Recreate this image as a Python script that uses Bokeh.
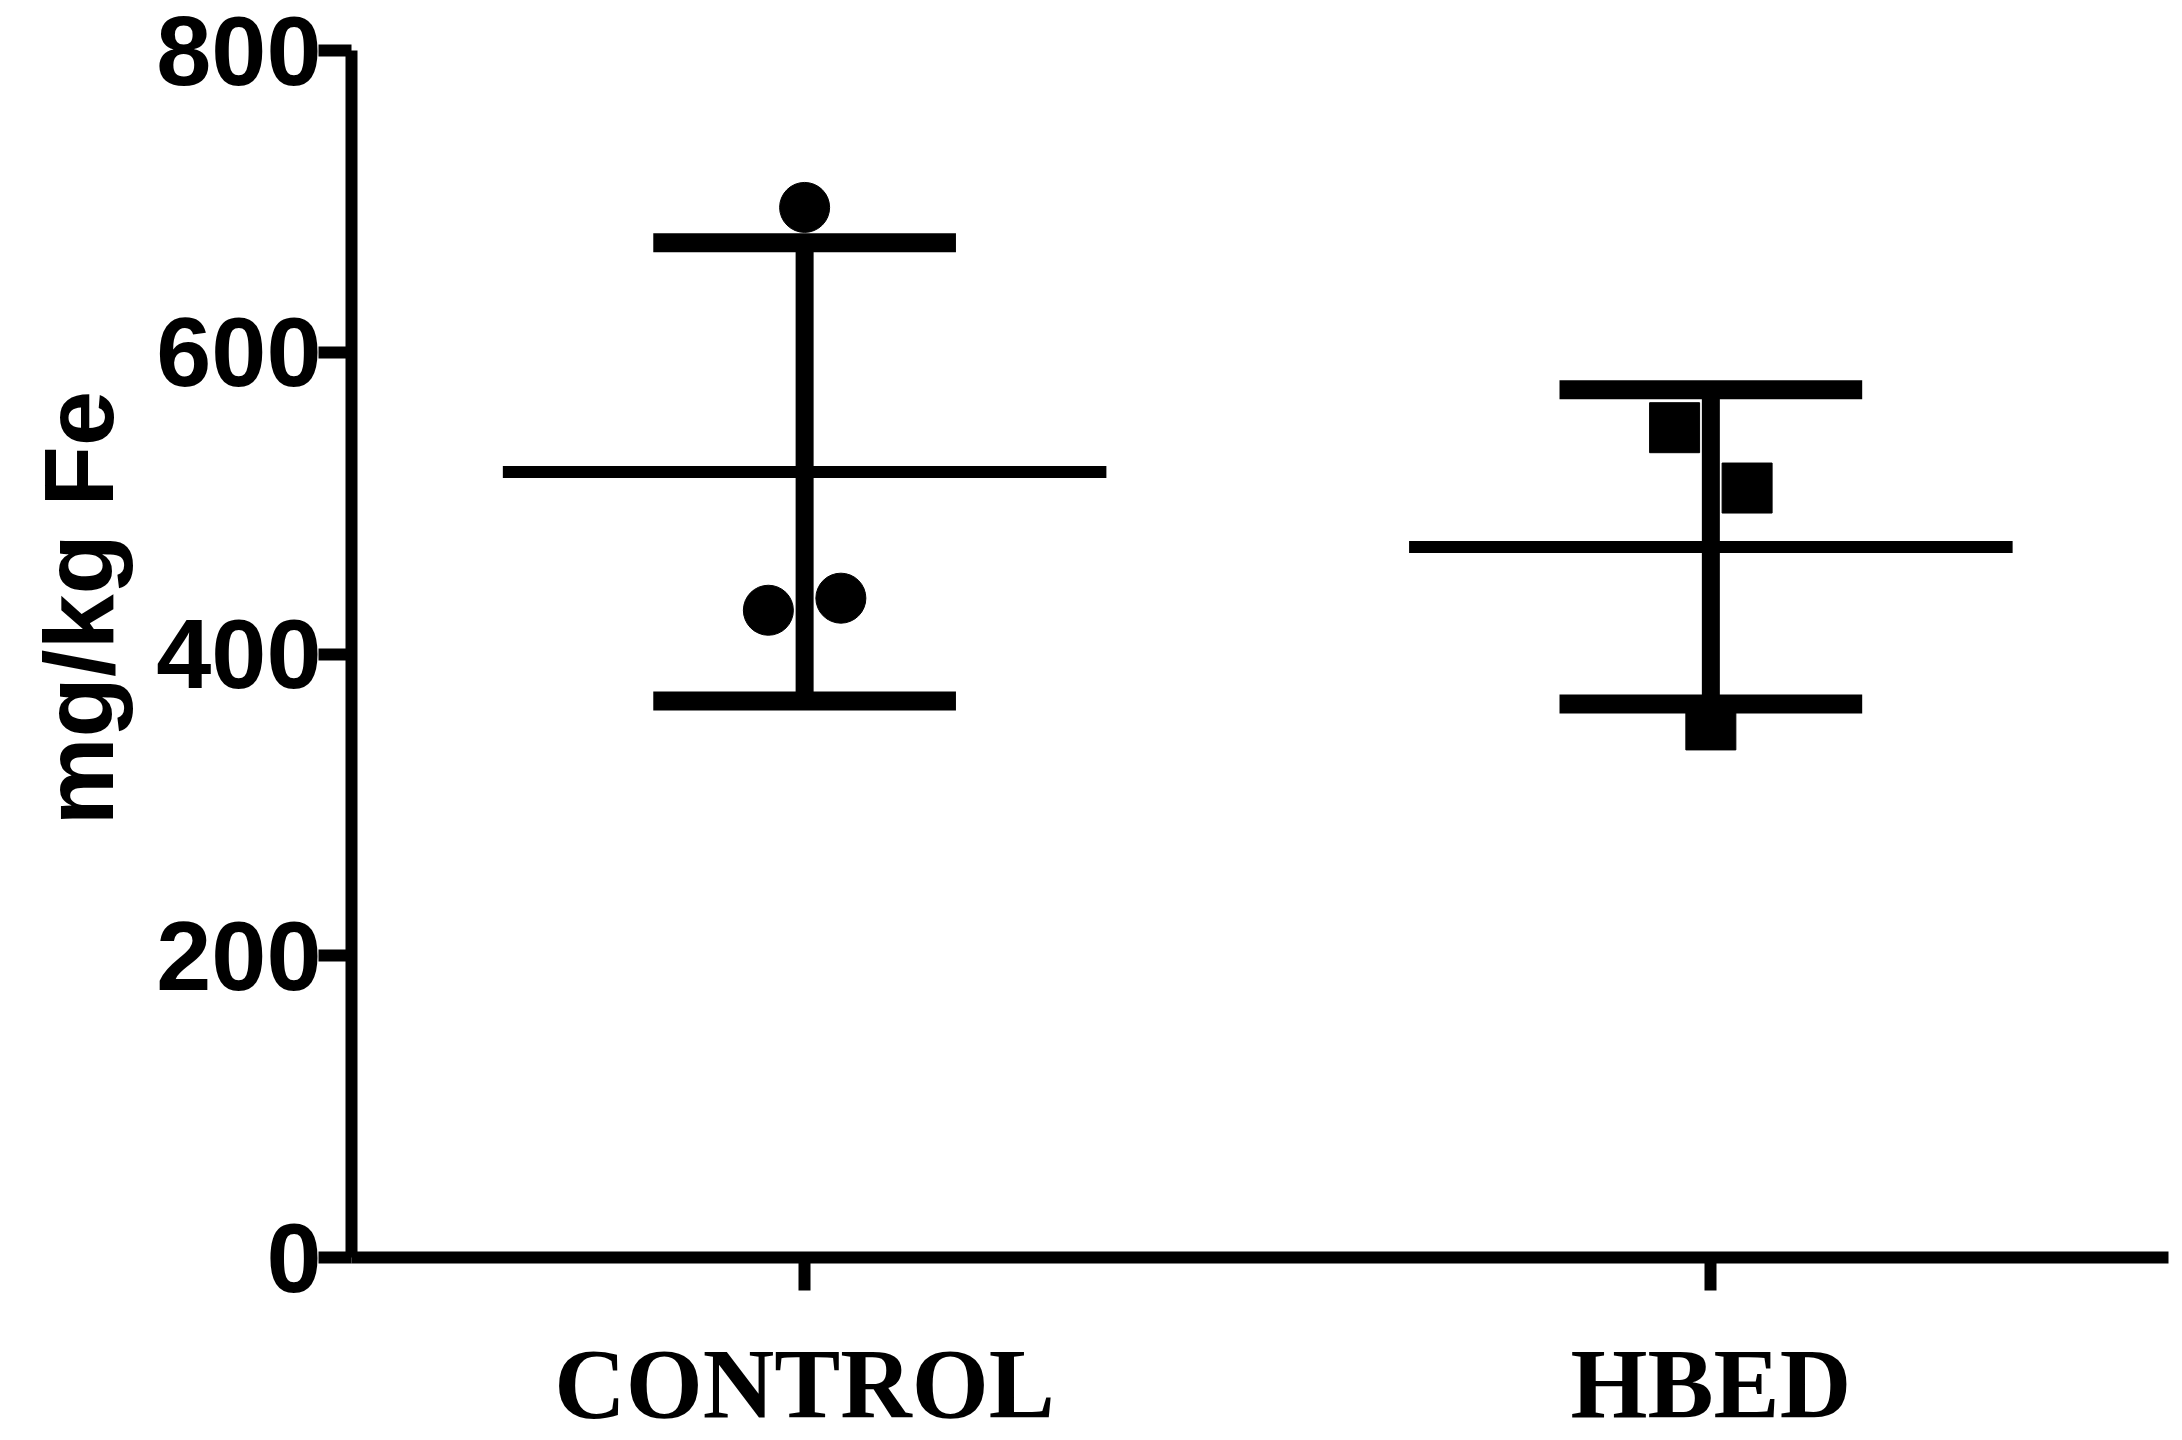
import numpy as np
from bokeh.plotting import figure
from bokeh.models import Range1d, FixedTicker, Title
from bokeh.embed import file_html
from bokeh.resources import INLINE

# ---- data ----
categories = ["CONTROL", "HBED"]
control_values = [696, 429, 437]
hbed_values = [550, 510, 353]
control_jitter = [0.0, -0.04, 0.04]
hbed_jitter = [-0.04, 0.04, 0.0]
y_ticks = [0, 200, 400, 600, 800]
y_label = "mg/kg Fe"

groups = [control_values, hbed_values]
means = [float(np.mean(g)) for g in groups]
sds = [float(np.std(g, ddof=1)) for g in groups]
xs = list(range(len(categories)))

p = figure(frame_width=1817, frame_height=1207,
           min_border_left=351, min_border_top=50, min_border_right=6, min_border_bottom=120,
           x_range=Range1d(-0.5, 1.505), y_range=Range1d(0, 800),
           output_backend="svg", toolbar_location=None)
p.outline_line_color = None
p.xgrid.grid_line_color = None
p.ygrid.grid_line_color = None
p.background_fill_color = "white"
p.border_fill_color = "white"

for ax in (p.xaxis[0], p.yaxis[0]):
    ax.axis_line_width = 12
    ax.axis_line_color = "black"
    ax.major_tick_line_width = 12
    ax.major_tick_line_color = "black"
    ax.major_tick_out = 33
    ax.major_tick_in = 0
    ax.minor_tick_line_color = None
    ax.major_label_text_color = "black"

p.xaxis.ticker = FixedTicker(ticks=xs)
p.xaxis.major_label_overrides = {i: c for i, c in zip(xs, categories)}
p.xaxis.major_label_text_font = "Liberation Serif"
p.xaxis.major_label_text_font_style = "bold"
p.xaxis.major_label_text_font_size = "99px"
p.xaxis.major_label_standoff = 38

p.yaxis.ticker = FixedTicker(ticks=y_ticks)
p.yaxis.major_label_text_font = "Liberation Sans"
p.yaxis.major_label_text_font_style = "bold"
p.yaxis.major_label_text_font_size = "99px"
p.yaxis.major_label_standoff = -3

mean_half = 0.333
cap_half = 0.167

# mean lines
p.segment(x0=[x - mean_half for x in xs], x1=[x + mean_half for x in xs],
          y0=means, y1=means, line_width=12, line_color="black")
# vertical SD bars
p.segment(x0=xs, x1=xs, y0=[m - s for m, s in zip(means, sds)],
          y1=[m + s for m, s in zip(means, sds)], line_width=18, line_color="black")
# caps
for sign in (1, -1):
    ys = [m + sign * s for m, s in zip(means, sds)]
    p.segment(x0=[x - cap_half for x in xs], x1=[x + cap_half for x in xs],
              y0=ys, y1=ys, line_width=19, line_color="black")

# points
p.scatter(x=[xs[0] + j for j in control_jitter], y=control_values,
          marker="circle", size=50, color="black")
p.scatter(x=[xs[1] + j for j in hbed_jitter], y=hbed_values,
          marker="square", size=50, color="black")

p.add_layout(Title(text=y_label, align="left", offset=432, standoff=40,
                   text_font="Liberation Sans", text_font_style="bold",
                   text_font_size="99px", text_color="black"), "left")

open("out.html", "w").write(file_html(p, INLINE))
